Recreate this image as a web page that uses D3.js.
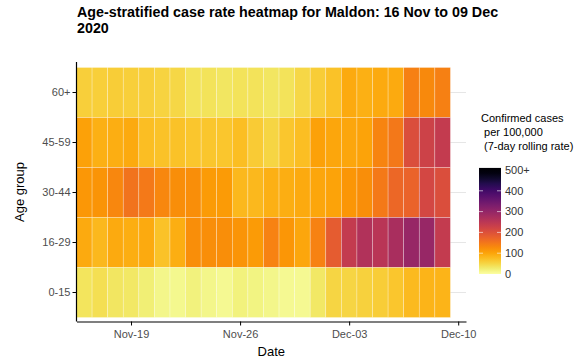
<!DOCTYPE html>
<html><head><meta charset="utf-8">
<script src="https://cdn.jsdelivr.net/npm/d3@7"></script>
<style>
body{margin:0;background:#fff;}
text{font-family:"Liberation Sans",Arial,sans-serif;}
</style></head>
<body><svg id="chart" width="585" height="362"></svg>
<script>
const dates = ["2020-11-16","2020-11-17","2020-11-18","2020-11-19","2020-11-20","2020-11-21","2020-11-22","2020-11-23",
"2020-11-24","2020-11-25","2020-11-26","2020-11-27","2020-11-28","2020-11-29","2020-11-30","2020-12-01",
"2020-12-02","2020-12-03","2020-12-04","2020-12-05","2020-12-06","2020-12-07","2020-12-08","2020-12-09"];
const ageGroups = ["60+","45-59","30-44","16-29","0-15"];
const rate60plus = [58,58,60,58,58,54,50,38,38,35,38,38,35,38,50,60,72,95,88,95,95,140,130,140];
const rate45to59 = [105,88,90,95,75,72,72,68,68,68,75,62,52,68,75,105,98,98,102,135,150,205,225,240];
const rate30to44 = [115,118,132,155,148,132,125,125,110,110,82,82,88,90,95,98,102,116,125,148,168,175,215,205];
const rate16to29 = [95,82,95,90,95,72,90,125,125,125,118,110,138,116,98,138,185,240,262,252,272,295,295,240];
const rate0to15 = [36,42,35,32,25,15,12,20,14,10,20,18,14,10,10,32,52,52,55,60,68,80,84,84];
const xTickDates = ["2020-11-19","2020-11-26","2020-12-03","2020-12-10"];
const legendTicks = [0,100,200,300,400,500];
const legendLabels = ["0","100","200","300","400","500+"];

const seriesByAge = {"60+":rate60plus,"45-59":rate45to59,"30-44":rate30to44,"16-29":rate16to29,"0-15":rate0to15};
const parse = d3.utcParse("%Y-%m-%d");
const cells = [];
ageGroups.forEach(a => seriesByAge[a].forEach((v,i) => cells.push({age:a, date:parse(dates[i]), value:v})));

const svg = d3.select("#chart");
const panel = {left:76.5, right:466, top:62, bottom:321.5};
const x = d3.scaleUtc()
  .domain([d3.utcHour.offset(parse("2020-11-16"),-12), d3.utcHour.offset(parse("2020-12-10"),12)])
  .range([panel.left, panel.right]);
const y = d3.scaleBand().domain(ageGroups).range([67.5, 317.5]).padding(0);
const color = d3.scaleSequential(t => d3.interpolateInferno(1 - t)).domain([0,500]).clamp(true);

// gridlines
svg.append("g").selectAll("line").data(ageGroups).join("line")
  .attr("x1", panel.left).attr("x2", panel.right)
  .attr("y1", d => y(d)+y.bandwidth()/2).attr("y2", d => y(d)+y.bandwidth()/2)
  .attr("stroke", "#e6e6e6").attr("stroke-width", 1);

// cells
svg.append("g").selectAll("rect").data(cells).join("rect")
  .attr("x", d => x(d3.utcHour.offset(d.date,-12)))
  .attr("width", d => x(d3.utcHour.offset(d.date,12)) - x(d3.utcHour.offset(d.date,-12)))
  .attr("y", d => y(d.age)).attr("height", y.bandwidth())
  .attr("fill", d => color(d.value))
  .attr("stroke", "rgba(255,255,255,0.45)").attr("stroke-width", 0.6);

// x axis
const xAxis = d3.axisBottom(x).tickValues(xTickDates.map(parse)).tickFormat(d3.utcFormat("%b-%d")).tickSize(4).tickSizeOuter(0);
const gx = svg.append("g").attr("transform", `translate(0,${panel.bottom})`).call(xAxis);
gx.select(".domain").attr("stroke","#000").attr("stroke-width",1.2);
gx.selectAll(".tick line").attr("stroke","#000");
gx.selectAll(".tick text").attr("font-size",11).attr("fill","#4d4d4d").attr("dy","0.9em")
  .style("font-family","'Liberation Sans',Arial,sans-serif");

// y axis
const yAxis = d3.axisLeft(y).tickSize(4).tickSizeOuter(0);
const gy = svg.append("g").attr("transform", `translate(${panel.left},0)`).call(yAxis);
gy.select(".domain").attr("d", `M0,${panel.top}V${panel.bottom}`).attr("stroke","#000").attr("stroke-width",1.2);
gy.selectAll(".tick line").attr("stroke","#000");
gy.selectAll(".tick text").attr("font-size",11).attr("fill","#4d4d4d").attr("x",-6)
  .style("font-family","'Liberation Sans',Arial,sans-serif");

// axis titles
svg.append("text").attr("x", (panel.left+panel.right)/2).attr("y", 356).attr("text-anchor","middle")
  .attr("font-size",13).attr("fill","#000").text("Date");
svg.append("text").attr("transform","translate(24,192) rotate(-90)").attr("text-anchor","middle")
  .attr("font-size",13).attr("fill","#000").text("Age group");

// title
const title = svg.append("text").attr("font-size",14.3).attr("font-weight","bold").attr("fill","#000");
title.append("tspan").attr("x",77).attr("y",17).text("Age-stratified case rate heatmap for Maldon: 16 Nov to 09 Dec");
title.append("tspan").attr("x",77).attr("y",32.5).text("2020");

// legend
const lt = svg.append("text").attr("font-size",11).attr("fill","#000");
lt.append("tspan").attr("x",481).attr("y",122).text("Confirmed cases");
lt.append("tspan").attr("x",481).attr("y",136).text("\u00a0per 100,000");
lt.append("tspan").attr("x",481).attr("y",150).text("\u00a0(7-day rolling rate)");

const ly = d3.scaleLinear().domain([0,500]).range([274,170]);
const defs = svg.append("defs");
const grad = defs.append("linearGradient").attr("id","lg").attr("x1",0).attr("x2",0).attr("y1",1).attr("y2",0);
d3.range(0,21).forEach(i => grad.append("stop").attr("offset", i/20).attr("stop-color", color(i/20*510)));
svg.append("rect").attr("x",479).attr("y",ly(510)).attr("width",22).attr("height",ly(0)-ly(510))
  .attr("fill","url(#lg)");
const lg = svg.append("g");
legendTicks.slice(1,5).forEach(v => {
  lg.append("line").attr("x1",479).attr("x2",483).attr("y1",ly(v)).attr("y2",ly(v)).attr("stroke","rgba(255,255,255,0.6)");
  lg.append("line").attr("x1",497).attr("x2",501).attr("y1",ly(v)).attr("y2",ly(v)).attr("stroke","rgba(255,255,255,0.6)");
});
lg.selectAll("text").data(legendTicks).join("text")
  .attr("x",505).attr("y",d => ly(d)).attr("dy","0.35em").attr("font-size",11).attr("fill","#333")
  .text((d,i) => legendLabels[i]);
</script></body></html>
